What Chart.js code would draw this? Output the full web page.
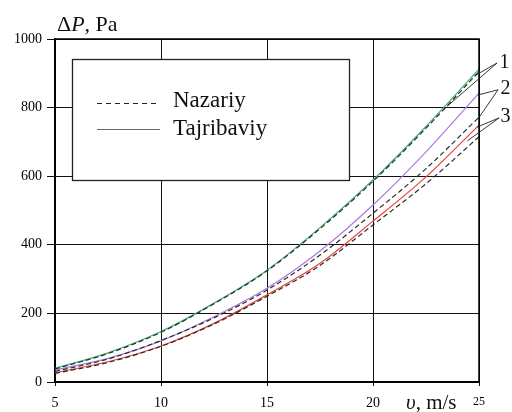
<!DOCTYPE html>
<html>
<head>
<meta charset="utf-8">
<style>
  html, body { margin: 0; padding: 0; background: #fff; }
</style>
<script src="https://cdn.jsdelivr.net/npm/chart.js@4.4.1/dist/chart.umd.min.js"></script>
</head>
<body>
<canvas id="c" width="512" height="412"></canvas>
<script>
// ===== data =====
const speeds = [5, 7.5, 10, 12.5, 15, 17.5, 20, 22.5, 25];          // v, m/s
const exp1 = [40, 85, 147, 230, 326, 450, 589, 745, 912];           // Tajribaviy, curve 1
const theo1 = [38, 83, 145, 228, 324, 447, 585, 740, 905];          // Nazariy, curve 1
const exp2 = [35, 69, 120, 190, 273, 382, 516, 671, 842];           // Tajribaviy, curve 2
const theo2 = [31, 67, 121, 187, 268, 370, 492, 622, 772];          // Nazariy, curve 2
const exp3 = [27, 59, 105, 171, 254, 346, 469, 598, 749];           // Tajribaviy, curve 3
const theo3 = [25, 57, 104, 169, 250, 340, 458, 578, 715];          // Nazariy, curve 3

const xTicks = [5, 10, 15, 20, 25];
const yTicks = [0, 200, 400, 600, 800, 1000];

// curve numbers and their leader lines (in data units)
const markTexts = ["1", "2", "3"];
const markV = [26.2, 26.25, 26.25];
const markP = [930, 855, 772];
const leaderFromV = [25.85, 25.9, 25.95];
const leaderFromP = [930, 852, 770];
const leaderToA = [[24.8, 893], [24.97, 837], [24.9, 743]];
const leaderToB = [[23.5, 804], [25.02, 773], [24.45, 703]];

const SERIF = "'Liberation Serif', 'DejaVu Serif', serif";

const pts = ys => speeds.map((v, i) => ({ x: v, y: ys[i] }));

function solid(ys, color) {
  return { data: pts(ys), borderColor: color, borderWidth: 1.2, pointRadius: 0,
           cubicInterpolationMode: "monotone", fill: false, order: 2 };
}
function dashed(ys) {
  return { data: pts(ys), borderColor: "#2a2a2a", borderWidth: 1.2, borderDash: [5, 3],
           pointRadius: 0, cubicInterpolationMode: "monotone", fill: false, order: 1 };
}

// ===== frame, legend, titles, curve numbers =====
const decorPlugin = {
  id: "decor",
  afterDraw(chart) {
    const { ctx, chartArea: a, scales: { x, y } } = chart;
    ctx.save();

    // top and right frame
    ctx.strokeStyle = "#000";
    ctx.lineWidth = 1.5;
    ctx.beginPath();
    ctx.moveTo(a.left, a.top);
    ctx.lineTo(a.right, a.top);
    ctx.lineTo(a.right, a.bottom);
    ctx.stroke();

    // legend box
    const bx = a.left + 17, by = a.top + 20, bw = 277, bh = 121;
    ctx.fillStyle = "#fff";
    ctx.fillRect(bx, by, bw, bh);
    ctx.lineWidth = 1.3;
    ctx.strokeStyle = "#222";
    ctx.strokeRect(bx + 0.5, by + 0.5, bw, bh);

    ctx.lineWidth = 1;
    ctx.strokeStyle = "#222";
    ctx.setLineDash([5, 4]);
    ctx.beginPath();
    ctx.moveTo(bx + 25, by + 44.5);
    ctx.lineTo(bx + 88, by + 44.5);
    ctx.stroke();
    ctx.setLineDash([]);
    ctx.strokeStyle = "#666";
    ctx.beginPath();
    ctx.moveTo(bx + 25, by + 70.5);
    ctx.lineTo(bx + 88, by + 70.5);
    ctx.stroke();

    ctx.fillStyle = "#111";
    ctx.font = "23px " + SERIF;
    ctx.textBaseline = "alphabetic";
    ctx.textAlign = "left";
    ctx.fillText("Nazariy", bx + 101, by + 48);
    ctx.fillText("Tajribaviy", bx + 101, by + 76);

    // y title: ΔP, Pa
    ctx.font = "22px " + SERIF;
    let tx = 57;
    const ty = 31;
    ctx.fillText("\u0394", tx, ty);
    tx += ctx.measureText("\u0394").width;
    ctx.font = "italic 22px " + SERIF;
    ctx.fillText("P", tx, ty);
    tx += ctx.measureText("P").width;
    ctx.font = "22px " + SERIF;
    ctx.fillText(", Pa", tx, ty);

    // x title: υ, m/s
    ctx.font = "italic 21px " + SERIF;
    let ux = 406;
    const uy = 409;
    ctx.fillText("\u03C5", ux, uy);
    ux += ctx.measureText("\u03C5").width;
    ctx.font = "21px " + SERIF;
    ctx.fillText(", m/s", ux, uy);

    // curve numbers with leader lines
    ctx.strokeStyle = "#222";
    ctx.lineWidth = 0.9;
    markTexts.forEach((t, i) => {
      const fx = x.getPixelForValue(leaderFromV[i]);
      const fy = y.getPixelForValue(leaderFromP[i]);
      [leaderToA[i], leaderToB[i]].forEach(([v, p]) => {
        ctx.beginPath();
        ctx.moveTo(fx, fy);
        ctx.lineTo(x.getPixelForValue(v), y.getPixelForValue(p));
        ctx.stroke();
      });
      ctx.font = "20px " + SERIF;
      ctx.fillStyle = "#111";
      ctx.textAlign = "center";
      ctx.textBaseline = "middle";
      ctx.fillText(t, x.getPixelForValue(markV[i]), y.getPixelForValue(markP[i]));
    });

    ctx.restore();
  }
};

new Chart(document.getElementById("c").getContext("2d"), {
  type: "line",
  data: {
    datasets: [
      solid(exp1, "#3cb371"),
      dashed(theo1),
      solid(exp2, "#a77be0"),
      dashed(theo2),
      solid(exp3, "#e8453c"),
      dashed(theo3)
    ]
  },
  options: {
    responsive: false,
    animation: false,
    events: [],
    layout: { padding: { top: 39, right: 33, left: 0, bottom: 0 } },
    plugins: { legend: { display: false }, tooltip: { enabled: false } },
    scales: {
      x: {
        type: "linear",
        min: 5, max: 25,
        afterBuildTicks: s => { s.ticks = xTicks.map(v => ({ value: v })); },
        afterFit: s => { s.height = 30; },
        grid: { color: "#111", lineWidth: 1, tickLength: 4, drawOnChartArea: true },
        border: { display: true, color: "#000", width: 2 },
        ticks: {
          color: "#000",
          padding: 9,
          maxRotation: 0,
          callback: v => String(v),
          font: c => ({ family: SERIF, size: c.tick && c.tick.value === 25 ? 12 : 14 })
        }
      },
      y: {
        min: 0, max: 1000,
        afterBuildTicks: s => { s.ticks = yTicks.map(v => ({ value: v })); },
        afterFit: s => { s.width = 55; },
        grid: { color: "#111", lineWidth: 1, tickLength: 8 },
        border: { display: true, color: "#000", width: 2 },
        ticks: { color: "#000", padding: 5, callback: v => String(v), font: { family: SERIF, size: 14 } }
      }
    }
  },
  plugins: [decorPlugin]
});
</script>
</body>
</html>
